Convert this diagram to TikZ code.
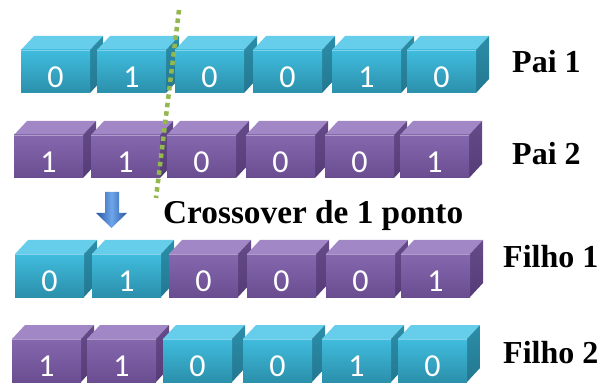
\documentclass[tikz,border=0pt]{standalone}
\usepackage{fontspec}
\setmainfont{Liberation Serif}
\newfontfamily\digitfont{Carlito}
\definecolor{cyF1}{HTML}{40BCDE}
\definecolor{cyF2}{HTML}{2B90AB}
\definecolor{cyT}{HTML}{66CEEA}
\definecolor{cyS1}{HTML}{2C8EA9}
\definecolor{cyS2}{HTML}{237790}
\definecolor{puF1}{HTML}{8567AE}
\definecolor{puF2}{HTML}{6A4D91}
\definecolor{puT}{HTML}{A187C5}
\definecolor{puS1}{HTML}{664A8A}
\definecolor{puS2}{HTML}{553C76}
\definecolor{dotgreen}{HTML}{93B84E}
\definecolor{arrA}{HTML}{2656A0}
\definecolor{arrB}{HTML}{6FA6EA}
\tikzset{
  digit/.style={text=white, font=\digitfont\fontsize{32}{34}\selectfont, inner sep=0pt},
  lbl/.style={anchor=base west, inner sep=0pt, font=\fontsize{32}{36}\selectfont\bfseries},
}
% #1 x, #2 y (front top-left), #3 colour prefix (cy/pu), #4 digit, #5 name
\newcommand{\mycube}[5]{%
  \fill[#3T] (#1,#2) -- ({#1+13},{#2-14}) -- ({#1+82},{#2-14}) -- ({#1+69},#2) -- cycle;
  \shade[top color=#3S1, bottom color=#3S2] ({#1+69},#2) -- ({#1+82},{#2-14}) -- ({#1+82},{#2+29}) -- ({#1+69},{#2+43}) -- cycle;
  \shade[top color=#3F1, bottom color=#3F2] (#1,#2) rectangle ({#1+69},{#2+43});
  \draw[white, opacity=0.35, line width=0.5pt] (#1,#2) -- ({#1+69},#2);
  \node[digit] (#5) at ({#1+34.5},{#2+27}) {#4};
}
\begin{document}
\begin{tikzpicture}[x=1pt,y=-1pt]
\useasboundingbox (0,0) rectangle (603,385);
% Pai 1
\mycube{21}{50}{cy}{0}{a1}
\mycube{97}{50}{cy}{1}{a2}
\mycube{175}{50}{cy}{0}{a3}
\mycube{253}{50}{cy}{0}{a4}
\mycube{332}{50}{cy}{1}{a5}
\mycube{407}{50}{cy}{0}{a6}
% Pai 2
\mycube{14}{135}{pu}{1}{b1}
\mycube{91}{135}{pu}{1}{b2}
\mycube{167}{135}{pu}{0}{b3}
\mycube{246}{135}{pu}{0}{b4}
\mycube{325}{135}{pu}{0}{b5}
\mycube{400}{135}{pu}{1}{b6}
% Filho 1
\mycube{15}{254}{cy}{0}{c1}
\mycube{92}{254}{cy}{1}{c2}
\mycube{169}{254}{pu}{0}{c3}
\mycube{247}{254}{pu}{0}{c4}
\mycube{326}{254}{pu}{0}{c5}
\mycube{401}{254}{pu}{1}{c6}
% Filho 2
\mycube{12}{339}{pu}{1}{d1}
\mycube{87}{339}{pu}{1}{d2}
\mycube{163}{339}{cy}{0}{d3}
\mycube{243}{339}{cy}{0}{d4}
\mycube{322}{339}{cy}{1}{d5}
\mycube{398}{339}{cy}{0}{d6}
% labels
\node[lbl] (p1) at (512,73) {Pai 1};
\node[lbl] (p2) at (512,165) {Pai 2};
\node[lbl] (f1) at (503,267) {Filho 1};
\node[lbl] (f2) at (503,363) {Filho 2};
\node[lbl, font=\fontsize{33.3}{36}\selectfont\bfseries] (cx) at (163,223) {Crossover de 1 ponto};
% crossover line
\coordinate (ct) at (179,10);
\coordinate (cb) at (156,198);
\draw[dotgreen, line width=4.5pt, dash pattern=on 4.5pt off 4pt] (ct) -- (cb);
% arrow
\shade[left color=arrA, right color=arrA, middle color=arrB]
  (105,192) -- (119,192) -- (119,213) -- (127,213) -- (111.5,228) -- (96,213) -- (105,213) -- cycle;
\end{tikzpicture}
\end{document}
